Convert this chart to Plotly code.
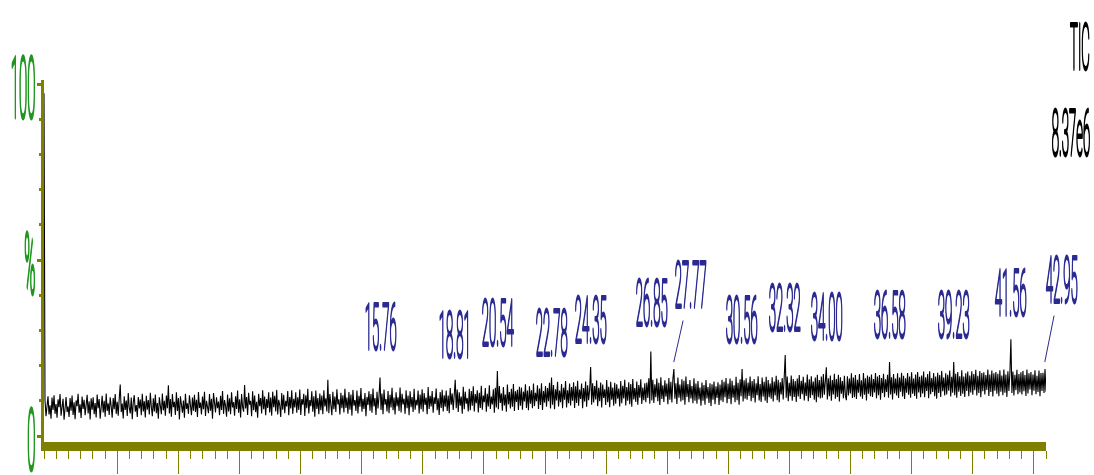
import numpy as np
import plotly.graph_objects as go

# ---------------- data ----------------
t_start, t_end = 2.0, 43.0          # retention-time span of the scans (min)

# TIC intensity (% of 8.37e6), scans read left to right, 25 per row (~1 min per row)
tic_pct = [
    97.4, 10.2, 5.6, 9.8, 11.3, 6.1, 8.7, 4.9, 10.9, 7.4, 11.6, 6.3, 9.1, 5.2, 10.4, 8.2, 11.9, 5.8, 7.9, 10.6, 4.6, 9.5, 11.1, 6.8, 8.4,
    5.4, 10.8, 7.2, 11.5, 6.0, 9.6, 4.8, 10.1, 8.5, 12.0, 6.6, 9.0, 5.1, 11.2, 7.7, 10.3, 5.9, 8.8, 11.7, 6.4, 9.9, 4.7, 10.7, 7.5, 11.0,
    6.2, 9.4, 5.3, 11.8, 7.9, 10.5, 4.9, 8.6, 11.4, 6.7, 10.0, 5.5, 12.1, 7.1, 9.3, 6.0, 11.0, 8.4, 5.2, 10.8, 7.6, 11.9, 6.3, 9.7, 5.8,
    10.6, 14.6, 6.8, 9.2, 5.0, 11.3, 7.4, 10.1, 5.7, 12.2, 8.0, 6.4, 10.9, 4.8, 9.6, 11.6, 6.9, 8.8, 5.4, 11.1, 7.8, 10.4, 5.9, 12.0, 7.0,
    9.9, 5.3, 11.4, 7.5, 10.2, 6.1, 12.3, 8.3, 5.6, 10.7, 7.0, 11.8, 6.5, 9.4, 4.9, 11.0, 8.7, 6.2, 12.1, 7.3, 10.0, 5.8, 11.5, 7.9, 14.4,
    6.4, 10.5, 5.5, 11.9, 8.2, 9.7, 6.0, 12.4, 7.1, 10.8, 4.7, 11.3, 8.9, 6.6, 10.1, 5.2, 12.0, 7.7, 9.3, 6.3, 11.6, 8.1, 5.9, 10.9, 7.2,
    11.7, 6.8, 10.3, 5.4, 12.5, 8.0, 9.5, 6.1, 11.2, 7.6, 12.6, 5.7, 10.0, 8.4, 6.5, 11.9, 7.2, 10.6, 4.9, 12.2, 8.7, 6.7, 11.0, 7.9, 9.8,
    5.9, 11.4, 7.4, 12.8, 6.3, 10.2, 8.6, 5.5, 11.8, 7.0, 10.7, 6.2, 12.4, 8.1, 9.6, 5.8, 11.3, 7.7, 12.9, 6.6, 10.4, 5.3, 11.9, 8.3, 6.9,
    14.5, 7.8, 11.1, 6.0, 12.3, 8.9, 10.0, 5.6, 12.7, 7.3, 11.5, 6.8, 9.7, 5.2, 12.0, 8.5, 10.8, 6.4, 13.0, 7.6, 11.2, 5.9, 10.5, 8.0, 12.4,
    6.7, 10.9, 5.8, 12.6, 8.2, 11.4, 7.0, 13.1, 6.1, 10.3, 8.8, 5.4, 12.2, 7.5, 11.7, 6.5, 10.0, 8.4, 12.8, 5.9, 11.1, 7.8, 13.0, 6.3, 10.6,
    8.1, 12.4, 6.6, 11.0, 7.4, 13.2, 6.0, 10.5, 8.9, 12.0, 5.7, 11.6, 7.9, 13.4, 6.4, 10.2, 8.5, 12.7, 6.9, 11.3, 5.5, 12.9, 7.7, 10.8, 6.2,
    12.1, 7.3, 11.5, 6.2, 13.0, 8.4, 10.7, 7.0, 16.0, 6.5, 11.9, 8.8, 5.9, 12.6, 7.6, 11.2, 6.8, 13.3, 9.0, 10.4, 6.1, 12.3, 7.9, 11.6, 6.7,
    13.4, 8.0, 10.9, 6.3, 12.5, 7.5, 11.8, 5.8, 13.1, 8.6, 10.2, 7.1, 12.9, 6.4, 11.4, 8.3, 13.6, 6.9, 10.6, 7.7, 12.2, 5.6, 11.1, 8.8, 12.7,
    7.2, 11.9, 6.6, 13.5, 8.4, 10.8, 6.0, 12.6, 7.8, 11.3, 16.6, 7.4, 12.1, 6.2, 13.2, 8.9, 10.5, 7.0, 12.8, 6.5, 11.7, 8.1, 13.7, 7.3, 10.9,
    6.1, 12.4, 8.5, 11.0, 7.1, 13.8, 6.7, 12.0, 9.0, 10.6, 6.3, 13.0, 7.9, 11.5, 5.9, 12.7, 8.2, 11.1, 6.8, 13.4, 7.5, 10.3, 8.7, 12.9, 6.4,
    11.8, 7.6, 13.3, 6.9, 12.2, 8.8, 10.9, 6.2, 13.9, 7.7, 11.4, 8.4, 12.8, 6.6, 11.0, 9.1, 13.5, 7.3, 10.7, 6.0, 12.5, 8.0, 13.1, 7.0, 11.6,
    8.3, 12.9, 7.1, 11.5, 6.5, 13.6, 8.9, 12.1, 7.4, 11.0, 16.0, 7.9, 13.2, 6.8, 12.4, 8.6, 11.2, 6.3, 14.0, 7.6, 12.6, 9.2, 10.8, 7.0, 13.4,
    7.3, 12.8, 8.6, 14.1, 7.0, 11.9, 9.3, 13.0, 6.7, 12.3, 8.0, 14.3, 7.5, 11.5, 9.6, 13.6, 6.9, 12.0, 8.4, 14.4, 7.7, 11.2, 9.0, 13.3, 6.6,
    13.7, 8.1, 18.5, 7.6, 14.2, 9.4, 12.1, 7.2, 13.9, 8.7, 11.8, 6.9, 14.6, 9.0, 12.5, 7.8, 13.4, 8.3, 14.8, 7.1, 12.7, 9.7, 13.1, 7.4, 14.0,
    8.6, 13.8, 7.5, 12.6, 9.8, 14.7, 8.0, 12.9, 7.3, 14.1, 9.2, 13.0, 7.9, 14.9, 8.5, 12.3, 9.9, 14.4, 7.7, 13.5, 8.8, 15.0, 7.4, 12.8, 9.5,
    14.2, 8.3, 13.6, 9.9, 15.1, 7.8, 16.6, 8.9, 14.5, 7.6, 13.3, 10.1, 15.4, 8.4, 12.9, 9.6, 14.8, 7.9, 13.7, 10.3, 15.6, 8.1, 13.0, 9.3, 14.9,
    8.7, 13.9, 10.0, 15.3, 8.0, 14.1, 9.4, 15.7, 8.6, 13.2, 10.5, 14.9, 7.9, 13.6, 9.8, 15.5, 8.3, 14.4, 10.2, 13.1, 19.6, 8.9, 15.0, 9.5, 14.2,
    10.4, 15.8, 8.5, 13.7, 9.9, 15.2, 8.1, 14.6, 10.8, 13.3, 8.8, 15.9, 9.6, 14.0, 8.2, 15.4, 10.3, 13.8, 8.6, 15.1, 9.2, 14.7, 10.6, 13.5, 8.4,
    15.6, 9.3, 14.3, 10.7, 16.0, 8.7, 13.9, 10.0, 15.3, 9.0, 14.8, 8.3, 16.2, 10.4, 13.6, 9.7, 15.5, 8.9, 14.5, 10.9, 16.1, 9.1, 13.8, 10.2, 15.0,
    9.6, 15.2, 10.8, 16.4, 9.2, 24.0, 10.1, 16.0, 9.4, 14.7, 11.0, 16.3, 9.9, 15.1, 8.8, 16.7, 10.5, 14.4, 9.7, 15.8, 11.2, 14.9, 9.0, 16.5, 10.3,
    15.4, 9.5, 16.2, 19.0, 10.6, 15.0, 9.1, 16.6, 10.9, 14.6, 9.8, 16.1, 10.2, 15.7, 8.9, 16.9, 11.1, 14.8, 9.6, 15.9, 10.7, 14.2, 9.3, 16.4, 10.0,
    14.9, 9.2, 15.6, 10.4, 13.8, 8.6, 15.2, 10.0, 14.5, 8.9, 15.9, 10.7, 13.9, 9.4, 15.0, 8.5, 14.7, 10.3, 15.5, 9.0, 14.1, 10.8, 15.3, 8.8, 14.6,
    10.1, 16.0, 9.7, 15.4, 11.0, 16.5, 9.3, 14.9, 10.5, 16.3, 9.0, 15.7, 10.9, 14.4, 9.6, 16.8, 10.2, 15.1, 8.9, 16.1, 11.3, 19.0, 9.8, 15.8, 10.6,
    16.4, 10.3, 15.2, 11.4, 16.9, 9.9, 15.6, 10.8, 16.2, 9.5, 15.0, 11.6, 17.0, 10.1, 14.8, 9.7, 16.6, 11.2, 15.4, 10.0, 16.8, 9.4, 15.9, 11.0, 14.9,
    10.6, 16.7, 9.8, 15.5, 11.5, 17.1, 10.2, 16.0, 9.6, 15.3, 11.8, 16.5, 10.4, 15.8, 23.0, 10.9, 16.9, 9.9, 15.1, 11.3, 17.2, 10.0, 16.2, 11.1, 15.6,
    9.7, 16.3, 11.2, 17.3, 10.5, 15.7, 11.9, 16.8, 10.1, 15.2, 11.4, 17.5, 9.9, 16.1, 10.8, 17.0, 11.6, 15.5, 10.3, 16.6, 9.6, 17.4, 11.0, 15.9, 10.7,
    16.9, 10.9, 17.6, 11.7, 15.8, 19.5, 10.4, 16.4, 11.3, 17.2, 10.0, 15.9, 11.8, 17.7, 10.6, 16.2, 11.1, 17.4, 9.8, 16.7, 12.0, 15.6, 10.7, 17.1, 11.4,
    10.2, 17.0, 11.5, 16.3, 12.1, 17.8, 10.8, 16.6, 11.0, 17.3, 10.5, 16.0, 12.3, 17.6, 11.2, 15.8, 10.6, 17.9, 11.7, 16.4, 10.1, 17.2, 12.0, 16.8, 11.3,
    17.5, 11.1, 16.2, 12.4, 17.9, 10.7, 16.9, 11.6, 17.3, 10.3, 16.5, 12.2, 17.7, 11.0, 16.1, 12.5, 17.4, 10.9, 21.0, 11.8, 16.7, 10.4, 17.6, 12.1, 16.3,
    11.5, 17.8, 10.8, 16.6, 12.6, 18.0, 11.2, 17.1, 10.5, 16.4, 12.3, 17.9, 11.7, 16.9, 10.9, 18.1, 12.0, 16.3, 11.4, 17.5, 10.6, 18.2, 12.4, 16.8, 11.0,
    17.2, 12.1, 18.3, 11.0, 16.7, 12.8, 17.6, 10.7, 18.4, 11.9, 16.5, 12.5, 17.9, 11.3, 16.9, 10.6, 18.0, 12.2, 17.3, 11.1, 18.5, 12.7, 16.6, 11.5, 17.8,
    11.8, 17.4, 12.9, 18.6, 11.2, 16.8, 12.3, 21.0, 11.6, 17.7, 10.9, 18.2, 12.6, 17.0, 11.4, 18.7, 12.0, 16.9, 11.1, 17.8, 12.8, 18.3, 11.3, 17.2, 12.4,
    18.4, 11.7, 17.6, 13.0, 18.8, 11.5, 17.1, 12.2, 18.5, 11.0, 17.9, 12.7, 18.1, 11.8, 17.3, 13.1, 18.9, 11.4, 17.5, 12.5, 18.6, 11.2, 17.8, 12.9, 18.2,
    12.0, 17.7, 11.3, 18.7, 12.6, 17.2, 11.6, 18.9, 12.3, 17.5, 11.1, 18.4, 12.8, 17.9, 27.5, 12.2, 18.3, 11.5, 17.4, 13.0, 18.8, 11.9, 17.6, 12.4, 18.1,
    11.8, 18.5, 12.7, 17.3, 11.4, 18.9, 12.1, 17.8, 13.2, 18.2, 11.6, 17.5, 12.9, 18.7, 11.9, 17.1, 12.5, 18.6, 11.3, 17.9, 12.8, 18.0, 12.2, 19.0, 12.6,
]

peak_times = [15.76, 18.81, 20.54, 22.78, 24.35, 26.85, 27.77, 30.56, 32.32, 34.00, 36.58, 39.23, 41.56, 42.95]
peak_labels = [f"{p:.2f}" for p in peak_times]

trace_title = "TIC"
trace_scale = "8.37e6"

y_tick_vals = [0, 50, 100]
y_tick_text = ["0", "%", "100"]
x_major_ticks = [5.0, 7.5, 10.0, 12.5, 15.0, 17.5, 20.0, 22.5, 25.0, 27.5,
                 30.0, 32.5, 35.0, 37.5, 40.0, 42.5]

# ---------------- layout / style ----------------
OLIVE = "#808000"
GREEN = "#1f971f"
BLUE = "#2a2a90"
FONT = "Roboto"

label_bottom = [23.9, 21.6, 25.0, 22.2, 25.9, 30.7, 35.8, 25.9, 29.3, 26.7, 27.3, 27.3, 33.5, 37.2]
label_dx = [0, 0, 0, 0, 0, 0, 0.70, 0, 0, 0, 0, 0, 0, 0.70]
LABEL_YSHIFT = -13
Y_RANGE = [-1.70, 101.14]

times = np.linspace(t_start, t_end, len(tic_pct))


def xpaper(t):
    return (t - t_start) / (t_end - t_start)


fig = go.Figure()
fig.add_trace(go.Scatter(
    x=times, y=tic_pct, mode="lines",
    line=dict(color="black", width=1.1),
    hoverinfo="skip", showlegend=False,
))

lab_font = dict(family=FONT, size=63, color=BLUE, weight=100)
for i, (pt, lab) in enumerate(zip(peak_times, peak_labels)):
    fig.add_annotation(
        x=xpaper(pt + label_dx[i]), xref="paper",
        y=label_bottom[i], yref="y", yshift=LABEL_YSHIFT,
        text=lab, showarrow=False,
        xanchor="center", yanchor="bottom", align="center",
        font=lab_font, borderpad=0,
    )
    if label_dx[i]:
        idx = int(round((pt - t_start) / (t_end - t_start) * (len(tic_pct) - 1)))
        pv = max(tic_pct[max(idx - 1, 0):idx + 2])
        fig.add_shape(
            type="line", xref="paper", yref="y",
            x0=xpaper(pt), y0=pv + 2.0,
            x1=xpaper(pt + 0.38), y1=label_bottom[i] - 3.0,
            line=dict(color=BLUE, width=1),
        )

for txt, yp in ((trace_title, 1.022), (trace_scale, 0.7845)):
    fig.add_annotation(x=1.0449, xref="paper", y=yp, yref="paper", yshift=LABEL_YSHIFT,
                       text=txt, showarrow=False, xanchor="right", yanchor="bottom", align="right",
                       font=dict(family=FONT, size=63, color="black", weight=100), borderpad=0)

fig.update_layout(
    width=1094, height=475,
    margin=dict(l=44, r=48, t=80, b=33, autoexpand=False),
    paper_bgcolor="white", plot_bgcolor="white",
    showlegend=False,
    xaxis=dict(
        range=[t_start, t_end], showgrid=False, zeroline=False,
        showline=True, linecolor=OLIVE, linewidth=9,
        ticks="outside", tickmode="array", tickvals=x_major_ticks,
        ticklen=23, tickwidth=1, tickcolor=OLIVE, showticklabels=False,
        minor=dict(tick0=t_start, dtick=0.5, ticks="outside", ticklen=8,
                   tickwidth=1, tickcolor=OLIVE),
        automargin=False,
    ),
    yaxis=dict(
        range=Y_RANGE, showgrid=False, zeroline=False,
        showline=True, linecolor=OLIVE, linewidth=3,
        ticks="outside", tickmode="array", tickvals=y_tick_vals, ticktext=y_tick_text,
        ticklen=4, tickwidth=3, tickcolor=OLIVE,
        tickfont=dict(family=FONT, size=83, color=GREEN, weight=100),
        ticklabeloverflow="allow",
        minor=dict(tick0=0, dtick=10, ticks="outside", ticklen=2,
                   tickwidth=3, tickcolor=OLIVE),
        automargin=False,
    ),
)

post = r"""
document.body.style.margin = '0';
document.documentElement.style.overflow = 'hidden';
var gd = document.getElementById('{plot_id}');
gd.querySelectorAll('.main-svg').forEach(function(s){ s.style.willChange = 'transform'; });
function squeeze(){
  var els = gd.querySelectorAll('.annotation-text, .ytick text');
  els.forEach(function(el){
    if (el.getAttribute('data-sq')) return;
    var isTick = !!el.closest('.ytick');
    var sx = isTick ? 0.18 : 0.21;
    var dx = isTick ? 15 : 0;
    var dy = isTick ? 4 : 0;
    var sw = isTick ? 3.6 : 2.8;
    var bb = el.getBBox();
    var a = el.getAttribute('text-anchor') || window.getComputedStyle(el).textAnchor;
    var px = (a === 'end') ? bb.x + bb.width : ((a === 'start') ? bb.x : bb.x + bb.width / 2);
    var tf = el.getAttribute('transform') || '';
    el.setAttribute('transform', tf + ' translate(' + (px + dx) + ',' + dy + ') scale(' + sx + ',1) translate(' + (-px) + ',0)');
    var col = window.getComputedStyle(el).fill;
    el.style.stroke = col;
    el.style.strokeWidth = sw + 'px';
    el.style.strokeLinejoin = 'round';
    el.style.vectorEffect = 'non-scaling-stroke';
    el.setAttribute('data-sq', '1');
  });
}
squeeze();
gd.on('plotly_afterplot', squeeze);
"""

fig.write_html("out.html", post_script=post, config={"displayModeBar": False})
